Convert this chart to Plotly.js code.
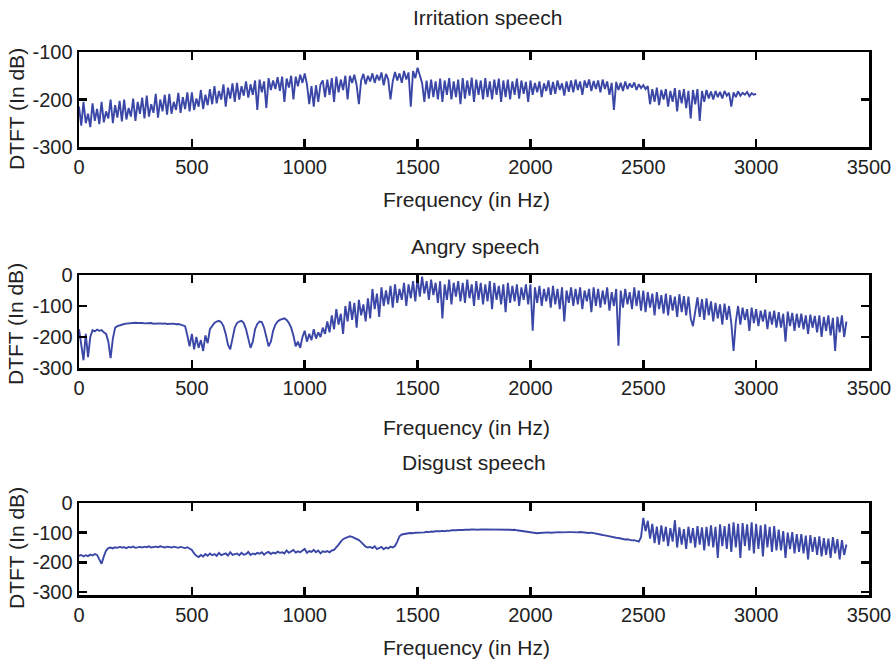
<!DOCTYPE html>
<html>
<head>
<meta charset="utf-8">
<script src="https://cdn.plot.ly/plotly-3.0.1.min.js"></script>
<style>html,body{margin:0;padding:0;background:#fff;}#chart{width:891px;height:662px;}</style>
</head>
<body>
<div id="chart"></div>
<script>
// Frequency grid step (Hz) of the sampled spectra
const stepHz = 10;

const panelTitles = ["Irritation speech", "Angry speech", "Disgust speech"];
const xTitle = "Frequency (in Hz)";
const yTitle = "DTFT (In dB)";
const xTickVals = [0, 500, 1000, 1500, 2000, 2500, 3000, 3500];
const yTickVals1 = [-300, -200, -100];
const yTickVals2 = [-300, -200, -100, 0];
const yTickVals3 = [-300, -200, -100, 0];

// DTFT magnitude (dB), Irritation speech, 0..3000 Hz
const irritation = [
-215,-255,-205,-250,-230,-258,-208,-245,-220,-252,
-205,-248,-225,-240,-200,-250,-212,-238,-203,-246,
-200,-242,-218,-236,-198,-245,-205,-230,-196,-240,
-192,-236,-210,-228,-188,-238,-200,-225,-190,-232,
-188,-230,-205,-222,-186,-228,-195,-220,-185,-225,
-185,-222,-198,-215,-180,-220,-190,-212,-178,-210,
-172,-208,-182,-200,-168,-215,-175,-198,-166,-205,
-165,-200,-172,-192,-162,-196,-168,-190,-160,-222,
-158,-185,-162,-218,-155,-180,-160,-178,-153,-182,
-152,-205,-156,-175,-150,-200,-152,-172,-148,-165,
-145,-168,-210,-172,-215,-170,-205,-168,-160,-195,
-158,-190,-155,-205,-152,-185,-158,-180,-150,-200,
-150,-165,-148,-170,-210,-160,-146,-168,-150,-162,
-145,-165,-148,-160,-143,-170,-146,-158,-200,-162,
-142,-160,-145,-165,-140,-158,-143,-215,-140,-155,
-133,-150,-165,-205,-160,-198,-158,-195,-162,-200,
-156,-205,-160,-190,-155,-200,-162,-195,-158,-210,
-155,-198,-160,-192,-154,-205,-158,-190,-160,-200,
-155,-195,-162,-200,-158,-190,-156,-205,-160,-195,
-158,-200,-162,-190,-156,-198,-160,-188,-163,-205,
-160,-190,-165,-185,-162,-195,-166,-182,-160,-190,
-163,-188,-160,-180,-166,-192,-162,-184,-160,-185,
-158,-180,-162,-190,-160,-175,-158,-182,-161,-178,
-160,-185,-158,-178,-162,-190,-165,-222,-163,-180,
-165,-182,-162,-178,-166,-175,-164,-180,-168,-176,
-170,-178,-172,-210,-178,-205,-175,-212,-180,-200,
-178,-215,-182,-205,-176,-225,-180,-208,-178,-218,
-182,-240,-180,-210,-178,-245,-182,-205,-180,-198,
-183,-200,-182,-195,-184,-198,-182,-192,-186,-215,
-185,-195,-183,-192,-186,-190,-184,-193,-187,-190,
-188
];

// DTFT magnitude (dB), Angry speech, 0..3400 Hz
const angry = [
-175,-230,-275,-190,-265,-200,-178,-182,-176,-180,
-178,-185,-190,-215,-268,-205,-170,-165,-162,-160,
-158,-157,-156,-155,-155,-154,-155,-154,-155,-156,
-155,-156,-155,-157,-156,-155,-156,-157,-156,-158,
-157,-158,-157,-159,-158,-160,-162,-165,-195,-230,
-190,-240,-200,-235,-210,-245,-195,-220,-175,-165,
-155,-150,-148,-152,-165,-190,-225,-240,-210,-170,
-155,-150,-148,-155,-175,-210,-235,-215,-175,-158,
-150,-152,-170,-200,-230,-215,-180,-160,-150,-145,
-142,-140,-145,-155,-170,-195,-230,-215,-235,-200,
-180,-215,-190,-210,-175,-205,-185,-200,-170,-190,
-150,-185,-130,-175,-110,-160,-125,-190,-100,-150,
-85,-145,-90,-170,-80,-130,-95,-150,-75,-140,
-45,-110,-60,-135,-40,-100,-50,-95,-35,-105,
-30,-90,-45,-80,-25,-100,-30,-75,-20,-85,
-10,-70,-5,-60,-20,-80,-15,-65,-25,-90,
-20,-140,-30,-80,-15,-95,-25,-70,-20,-85,
-25,-90,-15,-75,-30,-100,-20,-80,-25,-95,
-30,-85,-20,-110,-25,-80,-35,-95,-30,-120,
-25,-90,-35,-85,-30,-100,-40,-80,-30,-95,
-30,-180,-40,-90,-35,-100,-45,-85,-40,-105,
-35,-95,-45,-110,-40,-150,-50,-90,-40,-100,
-45,-95,-40,-110,-50,-85,-45,-120,-40,-100,
-45,-105,-50,-95,-40,-115,-55,-100,-45,-228,
-50,-105,-45,-95,-55,-110,-40,-100,-50,-115,
-50,-120,-55,-105,-60,-130,-55,-110,-65,-125,
-60,-130,-65,-115,-70,-135,-62,-120,-68,-130,
-70,-140,-165,-125,-72,-135,-78,-145,-75,-130,
-85,-150,-90,-140,-95,-160,-92,-145,-100,-155,
-245,-150,-100,-160,-105,-145,-110,-180,-105,-155,
-110,-165,-115,-150,-112,-175,-118,-160,-115,-170,
-120,-170,-125,-215,-118,-165,-122,-180,-125,-170,
-125,-175,-130,-190,-128,-170,-132,-185,-130,-200,
-135,-180,-130,-195,-138,-245,-135,-185,-130,-200,
-150
];

// DTFT magnitude (dB), Disgust speech, 0..3400 Hz
const disgust = [
-178,-175,-180,-176,-179,-174,-177,-172,-175,-190,
-205,-180,-160,-152,-150,-153,-149,-151,-148,-150,
-149,-152,-148,-150,-147,-151,-149,-148,-150,-147,
-149,-146,-150,-148,-147,-149,-146,-148,-150,-147,
-148,-150,-147,-149,-151,-148,-150,-152,-149,-153,
-158,-170,-178,-182,-175,-180,-172,-178,-170,-176,
-172,-178,-168,-176,-174,-170,-177,-166,-175,-172,
-170,-176,-168,-174,-172,-165,-175,-170,-173,-168,
-171,-166,-174,-168,-165,-172,-167,-170,-164,-168,
-166,-170,-160,-168,-164,-158,-167,-163,-166,-160,
-155,-168,-162,-165,-158,-166,-160,-170,-163,-165,
-162,-166,-160,-158,-150,-140,-130,-122,-118,-115,
-112,-114,-117,-120,-125,-132,-140,-147,-150,-148,
-152,-146,-155,-150,-148,-156,-150,-153,-147,-150,
-145,-130,-112,-106,-104,-103,-102,-101,-102,-100,
-100,-99,-98,-99,-97,-98,-96,-97,-95,-96,
-95,-94,-95,-93,-94,-92,-93,-92,-91,-92,
-91,-90,-91,-90,-89,-90,-89,-90,-89,-89,
-89,-88,-89,-88,-89,-88,-89,-89,-90,-89,
-90,-90,-91,-90,-92,-93,-94,-96,-98,-99,
-100,-101,-100,-102,-101,-100,-101,-100,-99,-100,
-99,-100,-99,-98,-99,-98,-99,-98,-98,-99,
-98,-99,-98,-99,-100,-99,-101,-100,-102,-103,
-104,-106,-108,-109,-111,-112,-114,-115,-117,-118,
-120,-121,-123,-122,-124,-126,-125,-128,-130,-115,
-50,-95,-60,-120,-70,-135,-80,-140,-75,-130,
-80,-145,-85,-130,-58,-150,-82,-140,-88,-155,
-80,-135,-85,-150,-78,-140,-82,-160,-80,-145,
-75,-150,-80,-185,-72,-145,-78,-155,-70,-165,
-65,-150,-70,-185,-68,-145,-72,-160,-65,-170,
-70,-155,-75,-180,-72,-150,-80,-165,-78,-160,
-90,-160,-95,-185,-100,-155,-98,-170,-105,-165,
-105,-170,-110,-190,-108,-165,-115,-175,-112,-180,
-118,-175,-120,-185,-115,-170,-122,-190,-125,-175,
-140
];

const W = 891, H = 662;
const FONT = "Liberation Sans, Arial, Helvetica, sans-serif";
const TXT = "#222222";
const LINE = "#3a47a6";
const FS = 21;
const TFS = 20;

function freqs(arr) { return arr.map((_, i) => i * stepHz); }

const series = [irritation, angry, disgust];
const traces = series.map((y, k) => ({
  type: "scatter", mode: "lines",
  x: freqs(y), y: y,
  xaxis: k === 0 ? "x" : "x" + (k + 1),
  yaxis: k === 0 ? "y" : "y" + (k + 1),
  line: { color: LINE, width: 1.9 },
  hoverinfo: "skip", showlegend: false
}));

// Plot-area pixel boxes [top, bottom]
const boxes = [[52, 147], [275, 368], [503, 595]];
const xDom = [79 / W, 869 / W];
const yRanges = [[-300, -100], [-300, 0], [-310, 0]];
const yTicks = [yTickVals1, yTickVals2, yTickVals3];

function xAxis(anchor) {
  return {
    domain: xDom, anchor: anchor, range: [0, 3500], tickvals: xTickVals,
    ticktext: xTickVals.map(String),
    ticks: "inside", ticklen: 8, tickwidth: 2.5, tickcolor: "#000",
    showline: true, linewidth: 2.5, linecolor: "#000", mirror: "ticks",
    showgrid: false, zeroline: false, fixedrange: true,
    ticklabelstandoff: 0, ticklabeloverflow: "allow",
    tickfont: { family: FONT, size: TFS, color: TXT }
  };
}
function yAxis(k, anchor) {
  const b = boxes[k];
  return {
    domain: [1 - b[1] / H, 1 - b[0] / H], anchor: anchor, range: yRanges[k],
    tickvals: yTicks[k], ticktext: yTicks[k].map(String),
    ticks: "inside", ticklen: 8, tickwidth: 2.5, tickcolor: "#000",
    showline: true, linewidth: 2.5, linecolor: "#000", mirror: "ticks",
    showgrid: false, zeroline: false, fixedrange: true,
    ticklabelstandoff: 0, ticklabeloverflow: "allow",
    tickfont: { family: FONT, size: TFS, color: TXT }
  };
}

function ann(text, xpx, ypx, angle) {
  return {
    text: text, xref: "paper", yref: "paper",
    x: xpx / W, y: 1 - ypx / H, xanchor: "center", yanchor: "middle",
    showarrow: false, textangle: angle || 0,
    font: { family: FONT, size: FS, color: TXT }
  };
}

const annotations = [
  ann(panelTitles[0], 488, 18), ann(panelTitles[1], 475, 246), ann(panelTitles[2], 474, 462),
  ann(xTitle, 467, 200), ann(xTitle, 467, 428), ann(xTitle, 467, 647),
  ann(yTitle, 16, 109, -90), ann(yTitle, 16, 324, -90), ann(yTitle, 16, 548, -90)
];

const layout = {
  width: W, height: H,
  margin: { l: 0, r: 0, t: 0, b: 0 },
  paper_bgcolor: "#ffffff", plot_bgcolor: "#ffffff",
  showlegend: false,
  xaxis: xAxis("y"), yaxis: yAxis(0, "x"),
  xaxis2: xAxis("y2"), yaxis2: yAxis(1, "x2"),
  xaxis3: xAxis("y3"), yaxis3: yAxis(2, "x3"),
  annotations: annotations
};

Plotly.newPlot("chart", traces, layout, { displayModeBar: false, staticPlot: true });
</script>
</body>
</html>
